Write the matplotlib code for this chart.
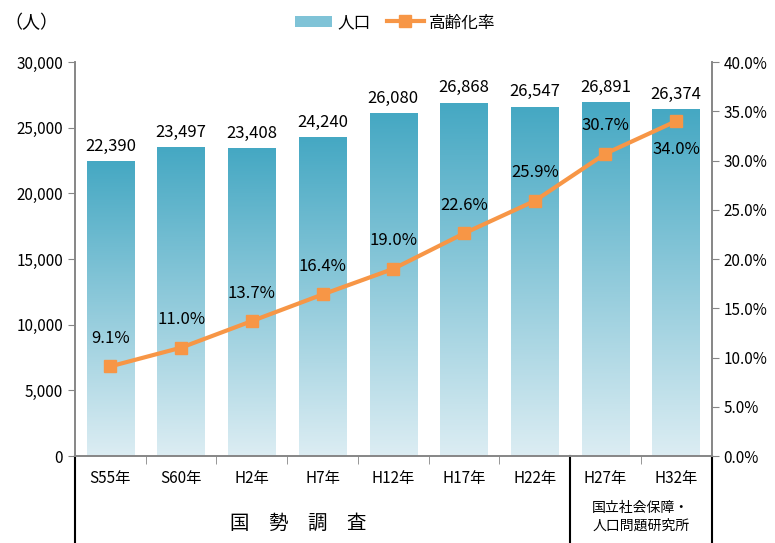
import numpy as np
import matplotlib
matplotlib.use("Agg")
import matplotlib.pyplot as plt
from matplotlib.colors import LinearSegmentedColormap
from matplotlib.patches import Patch
from matplotlib.lines import Line2D
from matplotlib.ticker import FuncFormatter

plt.rcParams["font.family"] = ["Noto Sans CJK JP", "DejaVu Sans"]

# データ
years = ["S55年", "S60年", "H2年", "H7年", "H12年", "H17年", "H22年", "H27年", "H32年"]
population = [22390, 23497, 23408, 24240, 26080, 26868, 26547, 26891, 26374]
aging_rate = [9.1, 11.0, 13.7, 16.4, 19.0, 22.6, 25.9, 30.7, 34.0]
source_census = "国　勢　調　査"
source_ipss = "国立社会保障・\n人口問題研究所"

bar_top = "#45a8c3"
bar_bottom = "#dcedf3"
line_color = "#f79646"
axis_gray = "#868686"

fig = plt.figure(figsize=(7.75, 5.43), dpi=100)
ax = fig.add_axes([0.0968, 0.1602, 0.8213, 0.7256])
x = np.arange(len(years))
w = 0.67

# グラデーション付き棒
cmap = LinearSegmentedColormap.from_list("bar", [bar_bottom, bar_top])
grad = np.linspace(0, 1, 256).reshape(-1, 1)
for xi, h in zip(x, population):
  ax.imshow(grad, cmap=cmap, origin="lower", aspect="auto",
            extent=[xi - w / 2, xi + w / 2, 0, h], zorder=2)
  ax.annotate(f"{h:,}", (xi, h), xytext=(0, 5), textcoords="offset points",
              ha="center", va="bottom", fontsize=12)

ax.set_xlim(-0.5, len(years) - 0.5)
ax.set_ylim(0, 30000)
ax.set_yticks(np.arange(0, 30001, 5000))
ax.yaxis.set_major_formatter(FuncFormatter(lambda v, p: f"{int(v):,}"))
ax.set_xticks(x)
ax.set_xticklabels(years, fontsize=11)
ax.set_xticks(np.arange(0.5, len(years) - 1, 1), minor=True)
ax.tick_params(axis="x", which="major", length=0, pad=10)
ax.tick_params(axis="x", which="minor", length=6, color=axis_gray)
ax.tick_params(axis="y", labelsize=11, length=5, color=axis_gray)
ax.spines["top"].set_visible(False)
for s in ["left", "right", "bottom"]:
  ax.spines[s].set_color(axis_gray)
  ax.spines[s].set_linewidth(1.2)

# 高齢化率
ax2 = ax.twinx()
ax2.plot(x, aging_rate, color=line_color, lw=3, marker="s", ms=9, zorder=3)
ax2.set_ylim(0, 40)
ax2.set_yticks(np.arange(0, 40.1, 5))
ax2.yaxis.set_major_formatter(FuncFormatter(lambda v, p: f"{v:.1f}%"))
ax2.tick_params(axis="y", labelsize=11, length=5, color=axis_gray)
ax2.spines["top"].set_visible(False)
for s in ["left", "right", "bottom"]:
  ax2.spines[s].set_color(axis_gray)
  ax2.spines[s].set_linewidth(1.2)
for i, (xi, r) in enumerate(zip(x, aging_rate)):
  below = i == len(x) - 1
  ax2.annotate(f"{r:.1f}%", (xi, r), xytext=(0, -14 if below else 14),
               textcoords="offset points", ha="center",
               va="top" if below else "bottom", fontsize=12)

# 下部の区切り線
trans = ax.get_xaxis_transform()
for xb in [-0.5, 6.5, 8.5]:
  ax.plot([xb, xb], [0, -0.2207], transform=trans, color="black", lw=1.5,
          clip_on=False)
ax.text(2.65, -0.17, source_census, transform=trans, ha="center", va="center",
        fontsize=14)
ax.text(7.5, -0.155, source_ipss, transform=trans, ha="center", va="center",
        fontsize=10, linespacing=1.3)

# 凡例・単位
fig.text(0.04, 0.958, "（人）", ha="center", va="center", fontsize=13)
handles = [Patch(facecolor="#7fc3d7", edgecolor="none"),
           Line2D([], [], color=line_color, lw=3, marker="s", ms=9)]
fig.legend(handles, ["人口", "高齢化率"], loc="center", bbox_to_anchor=(0.51, 0.958),
           ncol=2, frameon=False, fontsize=12, handlelength=2.2, columnspacing=1.0,
           handletextpad=0.3)

fig.savefig("out.png", dpi=100)
